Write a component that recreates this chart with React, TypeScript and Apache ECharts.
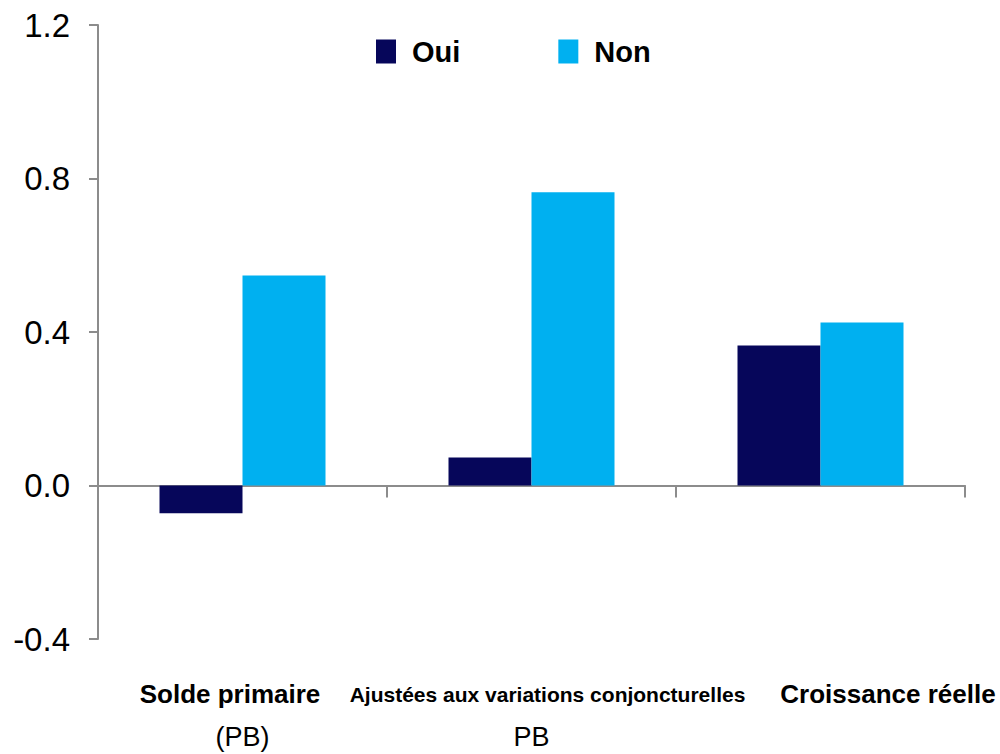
import React, { useEffect, useRef } from "react";
import * as echarts from "echarts";

const categories = ["Solde primaire", "Ajustées aux variations conjoncturelles", "Croissance réelle"];
const subLabels = ["(PB)", "PB", ""];
const seriesNames = ["Oui", "Non"];
const ouiValues = [-0.072, 0.073, 0.365];
const nonValues = [0.547, 0.764, 0.425];
const yTicks = { min: -0.4, max: 1.2, interval: 0.4 };

const FONT = 'Arial, "Liberation Sans", sans-serif';

export default function App() {
  const ref = useRef<HTMLDivElement>(null);
  useEffect(() => {
    document.body.style.margin = "0";
    const chart = echarts.init(ref.current!, null, { renderer: "svg" });
    chart.setOption({
      animation: false,
      backgroundColor: "#ffffff",
      textStyle: { fontFamily: FONT },
      legend: {
        left: 371,
        top: 32,
        itemWidth: 20,
        itemHeight: 24,
        itemGap: 98,
        icon: "rect",
        textStyle: { fontSize: 29, fontWeight: "bold", color: "#000", fontFamily: FONT, padding: [0, 0, 4, 11] },
        data: seriesNames,
      },
      grid: { left: 98, right: 35, top: 25, bottom: 115, containLabel: false, outerBoundsMode: "none" },
      xAxis: {
        type: "category",
        data: categories,
        axisLine: { onZero: true, lineStyle: { color: "#8c8c8c", width: 2 } },
        axisTick: { show: true, length: 12, alignWithLabel: false, lineStyle: { color: "#8c8c8c", width: 2 } },
        axisLabel: {
          interval: 0,
          margin: 22,
          verticalAlign: "top",
          color: "#000",
          fontFamily: FONT,
          formatter: (v: string, i: number) => `{a${i}|${v}}\n{b|${subLabels[i]}}`,
          rich: {
            a0: { fontSize: 26, fontWeight: "bold", color: "#000", lineHeight: 66, padding: [0, 25, 0, 0], fontFamily: FONT },
            a1: { fontSize: 21, fontWeight: "bold", color: "#000", lineHeight: 66, padding: [0, 0, 0, 32], fontFamily: FONT },
            a2: { fontSize: 26, fontWeight: "bold", color: "#000", lineHeight: 66, padding: [0, 0, 0, 135], fontFamily: FONT },
            b: { fontSize: 27, color: "#000", lineHeight: 20, fontFamily: FONT },
          },
        },
        splitLine: { show: false },
      },
      yAxis: {
        type: "value",
        min: yTicks.min,
        max: yTicks.max,
        interval: yTicks.interval,
        axisLine: { show: true, lineStyle: { color: "#8c8c8c", width: 2 } },
        axisTick: { show: true, length: 9, lineStyle: { color: "#8c8c8c", width: 2 } },
        axisLabel: {
          margin: 28,
          fontSize: 33,
          color: "#000",
          fontFamily: FONT,
          formatter: (v: number) => v.toFixed(1),
        },
        splitLine: { show: false },
      },
      series: [
        {
          name: seriesNames[0],
          type: "bar",
          data: ouiValues,
          barWidth: 83,
          barGap: "0%",
          itemStyle: { color: "#06065a" },
        },
        {
          name: seriesNames[1],
          type: "bar",
          data: nonValues,
          barWidth: 83,
          barGap: "0%",
          itemStyle: { color: "#00b0f0" },
        },
      ],
    });
    return () => chart.dispose();
  }, []);
  return <div ref={ref} style={{ position: "absolute", left: 0, top: 0, width: 1000, height: 754 }} />;
}
